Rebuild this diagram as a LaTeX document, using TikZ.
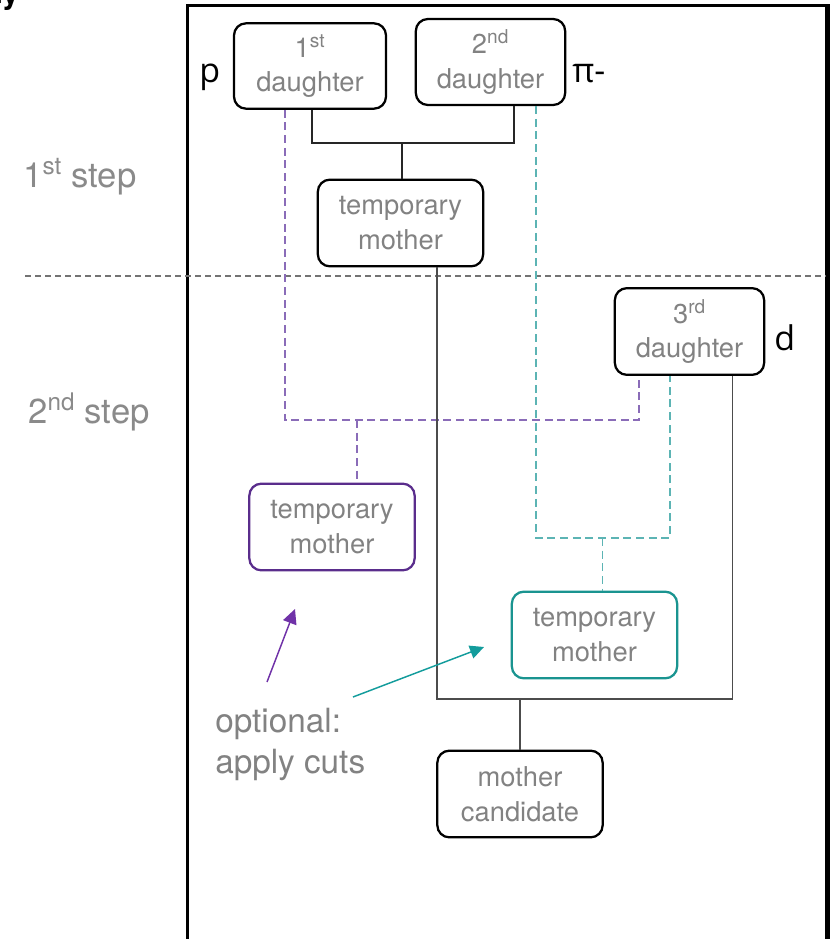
\documentclass[tikz,border=0pt]{standalone}
\usepackage{fontspec}
\setmainfont{TeX Gyre Heros}
\newfontfamily\labfont{Open Sans}
\usetikzlibrary{arrows.meta,calc}
\definecolor{txtgray}{HTML}{828282}
\definecolor{stepgray}{HTML}{8A8A8A}
\definecolor{pbox}{HTML}{5A2D8C}
\definecolor{pdashc}{HTML}{8A6CB8}
\definecolor{parrc}{HTML}{7032A8}
\definecolor{tbox}{HTML}{1A9490}
\definecolor{tdashc}{HTML}{5CB4B4}
\definecolor{tarrc}{HTML}{139C9C}
\begin{document}
\begin{tikzpicture}[x=0.75pt,y=-0.75pt,
  box/.style={draw=black, line width=1.7pt, rounded corners=9pt, align=center,
    text=txtgray, font=\fontsize{20.5}{26}\selectfont, inner sep=0pt},
  dbox/.style={box, minimum width=112pt, minimum height=64pt},
  mbox/.style={box, minimum width=124pt, minimum height=65pt},
  conn/.style={draw=black!85, line width=0.9pt},
  conn2/.style={draw=black!70, line width=1pt},
  pdash/.style={draw=pdashc, line width=1pt, dash pattern=on 6pt off 3.5pt},
  tdash/.style={draw=tdashc, line width=1pt, dash pattern=on 6pt off 3.5pt},
  sepline/.style={draw=black!55, line width=1.1pt, dash pattern=on 4.5pt off 3pt},
  steplab/.style={text=stepgray, font=\fontsize{26}{30}\selectfont, inner sep=0pt, anchor=base west},
  partlab/.style={text=black, font=\labfont\fontsize{25.5}{30}\selectfont, inner sep=0pt, anchor=base west},
  parrow/.style={draw=parrc, line width=1.1pt, -{Triangle[length=11pt,width=10.5pt]}},
  tarrow/.style={draw=tarrc, line width=1.1pt, -{Triangle[length=10.5pt,width=10pt]}}
]
\clip (0,0) rectangle (833,939);
\useasboundingbox (0,0) rectangle (833,939);

% cut-off text at top-left
\node[anchor=base west, inner sep=0pt, font=\bfseries\fontsize{24}{24}\selectfont] (cut) at (-9,3) {ty};

% frame
\draw[line width=2.3pt] (187.5,950) -- (187.5,5.5) -- (827,5.5);
\draw[line width=3.8pt] (827.5,4) -- (827.5,950);

% separator
\draw[sepline] (25,276) -- (826,276);

% step labels
\node[steplab] (s1) at (23,187) {1\textsuperscript{st} step};
\node[steplab] (s2) at (28,423) {2\textsuperscript{nd} step};

% nodes
\node[dbox, minimum width=114pt] (d1) at (310,66) {1\textsuperscript{st}\\daughter};
\node[dbox, minimum height=64.5pt] (d2) at (490.5,62) {2\textsuperscript{nd}\\daughter};
\node[mbox] (tm1) at (400.5,223) {temporary\\mother};
\node[dbox, minimum height=65pt] (d3) at (689.5,331.5) {3\textsuperscript{rd}\\daughter};
\node[mbox, draw=pbox] (tmp) at (332,527) {temporary\\mother};
\node[mbox, draw=tbox] (tmt) at (594.5,635) {temporary\\mother};
\node[mbox] (mc) at (520,794) {mother\\candidate};

% particle labels
\node[partlab] (lp) at (199,82) {p};
\node[partlab] (lpi) at (572,82) {π-};
\node[partlab] (ld) at (774,350) {d};

% first step connectors
\coordinate (b1) at (402,143);
\draw[conn] ($(d1.south)+(2,0)$) |- (b1) -| ($(d2.south)+(23.5,0)$);
\draw[conn] (b1) -- (b1 |- tm1.north);

% purple combination
\coordinate (bp) at (357,420);
\draw[pdash] ($(d1.south)+(-25,0)$) |- (bp) -| ($(d3.south)+(-50.5,0)$);
\draw[pdash] (bp) -- (bp |- tmp.north);

% teal combination
\coordinate (bt) at (602.5,538);
\draw[tdash] ($(d2.south)+(45.5,0)$) |- (bt) -| ($(d3.south)+(-19.5,0)$);
\draw[tdash] (bt) -- (bt |- tmt.north);

% mother combination
\coordinate (bm) at (520,699);
\draw[conn2] ($(tm1.south)+(36.5,0)$) |- (bm) -| ($(d3.south)+(43,0)$);
\draw[conn2] (bm) -- (mc.north);

% optional cuts text and arrows
\node[anchor=north west, align=left, inner sep=0pt, text=txtgray,
  font=\fontsize{25}{31}\selectfont] (opt) at (215,708) {optional:\\apply cuts};
\coordinate (pa0) at (267,682);
\coordinate (pa1) at (295,609);
\coordinate (ta0) at (353,697);
\coordinate (ta1) at (484,647);
\draw[parrow] (pa0) -- (pa1);
\draw[tarrow] (ta0) -- (ta1);
\end{tikzpicture}
\end{document}
